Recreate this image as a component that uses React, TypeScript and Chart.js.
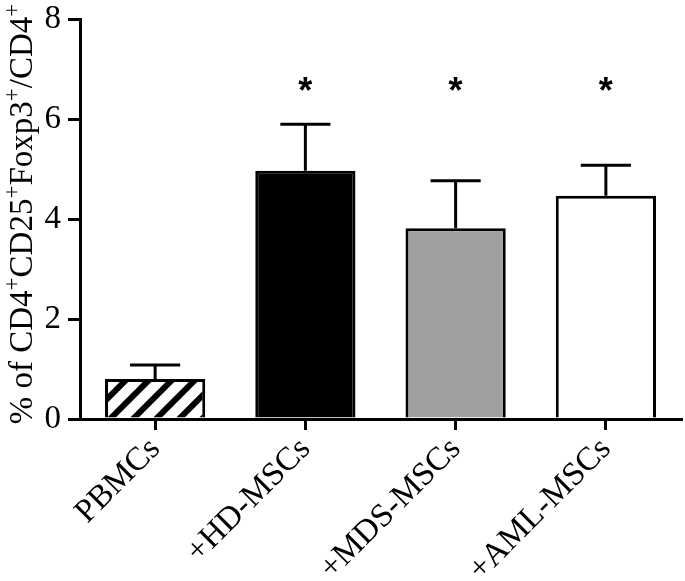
import React, { useEffect, useRef } from 'react';
import { Chart, registerables } from 'chart.js';

Chart.register(...registerables);

const categories = ['PBMCs', '+HD-MSCs', '+MDS-MSCs', '+AML-MSCs'];
const means = [0.8, 4.97, 3.82, 4.47];
const errors = [0.28, 0.93, 0.95, 0.61];
const significant = [false, true, true, true];
const yTickValues = [0, 2, 4, 6, 8];
const fills = ['hatch', '#000000', '#a0a0a0', '#ffffff'];
const starLevel = 6.64;

const SERIF = "'Liberation Serif', 'Times New Roman', Times, serif";

function makeHatch(): CanvasPattern | string {
  const size = 23;
  const c = document.createElement('canvas');
  c.width = size;
  c.height = size;
  const g = c.getContext('2d');
  if (!g) return '#ffffff';
  g.fillStyle = '#ffffff';
  g.fillRect(0, 0, size, size);
  g.strokeStyle = '#000000';
  g.lineWidth = 6;
  g.lineCap = 'square';
  for (const x0 of [-size, 0, size]) {
    g.beginPath();
    g.moveTo(x0, size);
    g.lineTo(x0 + size, 0);
    g.stroke();
  }
  const p = g.createPattern(c, 'repeat');
  return p || '#ffffff';
}

const errorBarPlugin = {
  id: 'errorBars',
  afterDatasetsDraw(chart: any) {
    const ctx = chart.ctx;
    const meta = chart.getDatasetMeta(0);
    const yScale = chart.scales.y;
    ctx.save();
    ctx.strokeStyle = '#000';
    ctx.lineWidth = 3;
    ctx.lineCap = 'butt';
    meta.data.forEach((el: any, i: number) => {
      const x = el.x;
      const yTop = yScale.getPixelForValue(means[i]);
      const yErr = yScale.getPixelForValue(means[i] + errors[i]);
      const half = el.width / 4;
      ctx.beginPath();
      ctx.moveTo(x, yTop);
      ctx.lineTo(x, yErr);
      ctx.moveTo(x - half, yErr);
      ctx.lineTo(x + half, yErr);
      ctx.stroke();
      if (significant[i]) {
        ctx.fillStyle = '#000';
        ctx.font = "bold 36px 'Liberation Sans', Arial, sans-serif";
        ctx.textAlign = 'center';
        ctx.textBaseline = 'middle';
        ctx.fillText('*', x, yScale.getPixelForValue(starLevel) + 6);
      }
    });
    ctx.restore();
  },
};

const yTitlePlugin = {
  id: 'yTitleRich',
  afterDraw(chart: any) {
    const ctx = chart.ctx;
    const parts: [string, boolean][] = [
      ['% of CD4', false],
      ['+', true],
      ['CD25', false],
      ['+', true],
      ['Foxp3', false],
      ['+', true],
      ['/CD4', false],
      ['+', true],
    ];
    const mainFont = `33px ${SERIF}`;
    const supFont = `23px ${SERIF}`;
    ctx.save();
    let total = 0;
    const widths = parts.map(([t, s]) => {
      ctx.font = s ? supFont : mainFont;
      const w = ctx.measureText(t).width;
      total += w;
      return w;
    });
    const cy = 214;
    ctx.translate(32, cy);
    ctx.rotate(-Math.PI / 2);
    ctx.fillStyle = '#000';
    ctx.textAlign = 'left';
    ctx.textBaseline = 'alphabetic';
    let x = -total / 2;
    parts.forEach(([t, s], i) => {
      ctx.font = s ? supFont : mainFont;
      ctx.fillText(t, x, s ? -13 : 0);
      x += widths[i];
    });
    ctx.restore();
  },
};

export default function App() {
  const ref = useRef<HTMLCanvasElement | null>(null);

  useEffect(() => {
    if (!ref.current) return;
    const hatch = makeHatch();
    const bg = fills.map((f) => (f === 'hatch' ? hatch : f));
    const chart = new Chart(ref.current, {
      type: 'bar',
      data: {
        labels: categories,
        datasets: [
          {
            data: means,
            backgroundColor: bg as any,
            borderColor: '#000000',
            borderWidth: 3,
            barPercentage: 0.667,
            categoryPercentage: 1,
          },
        ],
      },
      options: {
        responsive: false,
        animation: false,
        layout: { padding: { top: 19.5, right: 4, left: 0, bottom: 0 } },
        plugins: {
          legend: { display: false },
          tooltip: { enabled: false },
          title: { display: false },
        },
        scales: {
          x: {
            offset: true,
            grid: {
              offset: false,
              drawOnChartArea: false,
              drawTicks: true,
              tickLength: 11,
              color: '#000',
              lineWidth: 3,
            },
            border: { display: true, color: '#000', width: 3 },
            ticks: {
              color: '#000',
              font: { family: SERIF, size: 33 },
              minRotation: 45,
              maxRotation: 45,
              padding: 0,
              autoSkip: false,
            },
            afterFit(scale: any) {
              scale.height = 162;
              scale.paddingLeft = 0;
              scale.paddingRight = 0;
            },
          },
          y: {
            min: 0,
            max: 8,
            afterBuildTicks(scale: any) {
              scale.ticks = yTickValues.map((v) => ({ value: v }));
            },
            grid: {
              drawOnChartArea: false,
              drawTicks: true,
              tickLength: 12,
              color: '#000',
              lineWidth: 3,
            },
            border: { display: true, color: '#000', width: 3 },
            ticks: {
              color: '#000',
              font: { family: SERIF, size: 33 },
              padding: 7,
            },
            afterFit(scale: any) {
              scale.width = 80;
              scale.paddingTop = 0;
              scale.paddingBottom = 0;
            },
          },
        },
      },
      plugins: [errorBarPlugin, yTitlePlugin],
    });
    return () => chart.destroy();
  }, []);

  return (
    <div style={{ position: 'absolute', left: 0, top: 0, width: 685, height: 581, background: '#fff' }}>
      <canvas ref={ref} width={685} height={581} style={{ display: 'block' }} />
    </div>
  );
}
